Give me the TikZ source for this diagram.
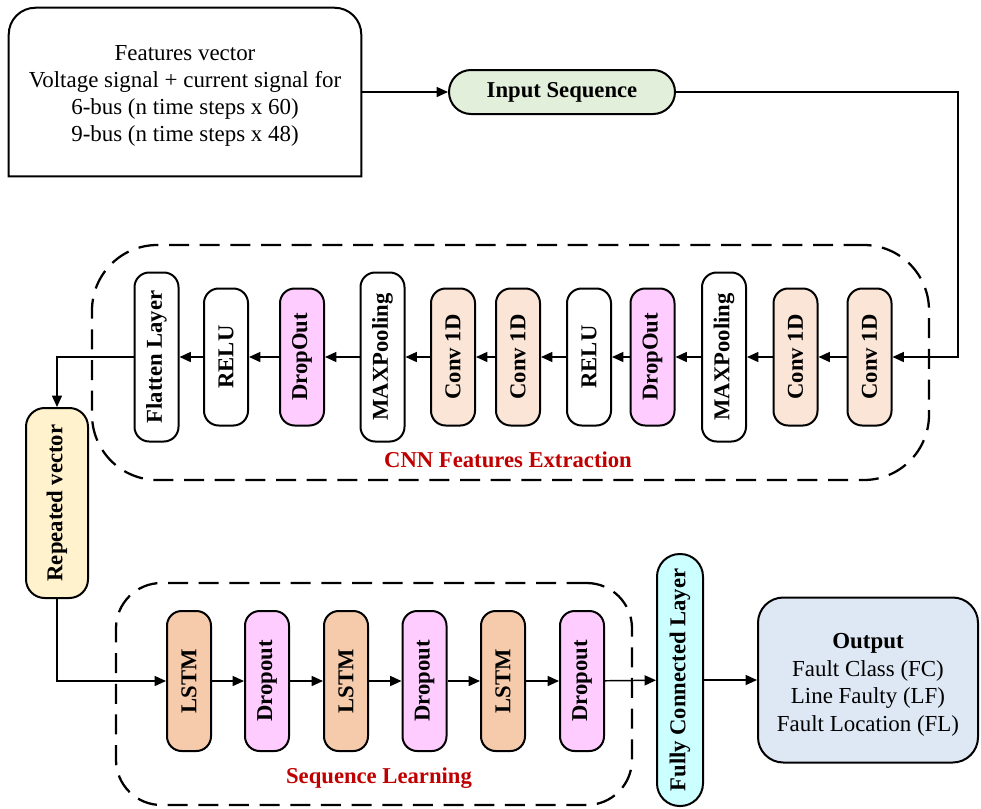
\documentclass[tikz,border=0pt]{standalone}
\usepackage{fontspec}
\setmainfont{Liberation Serif}
\usetikzlibrary{arrows.meta}

\definecolor{seqgreen}{HTML}{E2EFDA}
\definecolor{convpeach}{HTML}{FBE5D6}
\definecolor{droppink}{HTML}{FFCCFF}
\definecolor{lstmsalmon}{HTML}{F5CBAC}
\definecolor{repyellow}{HTML}{FFF2CC}
\definecolor{fccyan}{HTML}{CCFFFF}
\definecolor{outblue}{HTML}{DEE8F4}
\definecolor{labelred}{HTML}{C00000}

\begin{document}
\begin{tikzpicture}[x=0.75pt,y=0.75pt,
  txt/.style={font=\fontsize{17.2}{20.4}\selectfont},
  btxt/.style={font=\bfseries\fontsize{17}{20.4}\selectfont},
  layer/.style={draw, line width=1.5pt, rounded corners=11pt, rotate=90, btxt,
    inner sep=0pt, minimum width=102.75pt, minimum height=33pt},
  tall/.style={minimum width=126.75pt},
  conv/.style={layer, fill=convpeach},
  drop/.style={layer, fill=droppink},
  plain/.style={layer, fill=white},
  lstm/.style={layer, fill=lstmsalmon, minimum width=105pt},
  sdrop/.style={layer, fill=droppink, minimum width=105pt},
  frame/.style={draw, line width=1.7pt, dash pattern=on 15pt off 8pt, inner sep=0pt},
  grouplabel/.style={btxt, text=labelred},
  arr/.style={line width=1.1pt, -{Triangle[length=8.5pt,width=7.5pt]}}
]
\useasboundingbox (0,0) rectangle (981,-808);

% dashed group frames
\node[frame, rounded corners=49pt, minimum width=627.75pt, minimum height=176.25pt]
  (cnnbox) at (510.5,-362.5) {};
\node[frame, rounded corners=34pt, minimum width=387pt, minimum height=166.5pt]
  (seqbox) at (374,-694) {};
\node[grouplabel] (cnnlbl) at (508,-460) {CNN Features Extraction};
\node[grouplabel] (seqlbl) at (379,-778) {Sequence Learning};

% input description
\node[txt, align=center, minimum width=264pt, minimum height=126pt, inner sep=0pt]
  (feat) at (185,-92) {\rule{0pt}{17pt}Features vector\\Voltage signal + current signal for\\6-bus (n time steps x 60)\\9-bus (n time steps x 48)};
\draw[line width=1.5pt] (feat.south west) -- ([yshift=-20pt]feat.north west)
  arc[start angle=180,end angle=90,radius=20pt] -- ([xshift=-20pt]feat.north east)
  arc[start angle=90,end angle=0,radius=20pt] -- (feat.south east) -- cycle;

\node[draw, line width=1.5pt, fill=seqgreen, rounded corners=16.5pt, btxt,
  minimum width=169.5pt, minimum height=33pt] (inseq) at (562,-92) {Input Sequence};

% CNN layers (data flows right to left)
\node[conv] (c10) at (869.5,-357) {Conv 1D};
\node[conv] (c9) at (795.5,-357) {Conv 1D};
\node[plain, tall] (mp2) at (724,-357) {MAXPooling};
\node[drop] (do2) at (652.5,-357) {DropOut};
\node[plain] (re2) at (589,-357) {RELU};
\node[conv] (c8) at (518,-357) {Conv 1D};
\node[conv] (c7) at (453,-357) {Conv 1D};
\node[plain, tall] (mp1) at (382.5,-357) {MAXPooling};
\node[drop] (do1) at (302,-357) {DropOut};
\node[plain] (re1) at (226,-357) {RELU};
\node[plain, tall] (flat) at (156.5,-357) {Flatten Layer};

\node[layer, fill=repyellow, rounded corners=14pt, minimum width=142.5pt,
  minimum height=46.5pt] (rep) at (57,-503) {Repeated vector};

% sequence learning layers
\node[lstm] (l1) at (189,-681) {LSTM};
\node[sdrop] (d1) at (267,-681) {Dropout};
\node[lstm] (l2) at (346,-681) {LSTM};
\node[sdrop] (d2) at (424.5,-681) {Dropout};
\node[lstm] (l3) at (503,-681) {LSTM};
\node[sdrop] (d3) at (582,-681) {Dropout};

\node[layer, fill=fccyan, rounded corners=17pt, minimum width=189pt,
  minimum height=34.5pt] (fc) at (680,-680) {Fully Connected Layer};

\node[draw, line width=1.5pt, fill=outblue, rounded corners=19pt, txt, align=center,
  minimum width=165pt, minimum height=123.75pt] (out) at (868,-680)
  {\rule{0pt}{18pt}\textbf{Output}\\[1pt]Fault Class (FC)\\Line Faulty (LF)\\Fault Location (FL)};

% connectors
\coordinate (rx) at (958,-92);
\draw[arr] (feat) -- (inseq);
\draw[arr] (inseq) -- (rx) |- (c10);
\draw[arr] (c10) -- (c9);
\draw[arr] (c9) -- (mp2);
\draw[arr] (mp2) -- (do2);
\draw[arr] (do2) -- (re2);
\draw[arr] (re2) -- (c8);
\draw[arr] (c8) -- (c7);
\draw[arr] (c7) -- (mp1);
\draw[arr] (mp1) -- (do1);
\draw[arr] (do1) -- (re1);
\draw[arr] (re1) -- (flat);
\draw[arr] (flat) -| (rep);
\draw[arr] (rep) |- (l1);
\draw[arr] (l1) -- (d1);
\draw[arr] (d1) -- (l2);
\draw[arr] (l2) -- (d2);
\draw[arr] (d2) -- (l3);
\draw[arr] (l3) -- (d3);
\draw[arr] (d3) -- (fc);
\draw[arr] (fc) -- (out);
\end{tikzpicture}
\end{document}
